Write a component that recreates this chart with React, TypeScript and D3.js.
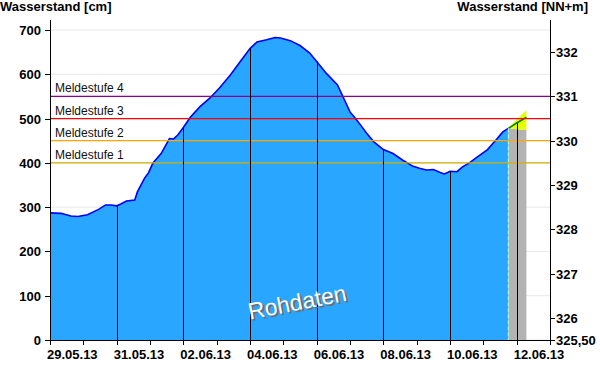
import React from "react";
import * as d3 from "d3";

// Observed water level (cm)
const obsTimes = [
  "2013-05-29 00:00", "2013-05-29 08:00", "2013-05-29 15:00", "2013-05-29 20:00",
  "2013-05-30 03:00", "2013-05-30 11:00", "2013-05-30 16:00", "2013-05-30 20:00",
  "2013-05-31 00:00", "2013-05-31 03:00", "2013-05-31 07:00", "2013-05-31 13:00",
  "2013-05-31 15:00", "2013-05-31 20:00", "2013-05-31 23:00", "2013-06-01 02:00",
  "2013-06-01 08:00", "2013-06-01 14:00", "2013-06-01 17:00", "2013-06-01 20:00",
  "2013-06-02 00:00", "2013-06-02 05:00", "2013-06-02 12:00", "2013-06-02 19:00",
  "2013-06-03 02:00", "2013-06-03 10:00", "2013-06-03 17:00", "2013-06-04 00:00",
  "2013-06-04 05:00", "2013-06-04 12:00", "2013-06-04 18:00", "2013-06-04 22:00",
  "2013-06-05 05:00", "2013-06-05 12:00", "2013-06-05 19:00", "2013-06-06 00:00",
  "2013-06-06 07:00", "2013-06-06 15:00", "2013-06-06 19:00", "2013-06-07 00:00",
  "2013-06-07 04:00", "2013-06-07 07:00", "2013-06-07 12:00", "2013-06-07 17:00",
  "2013-06-08 00:00", "2013-06-08 07:00", "2013-06-08 14:00", "2013-06-08 21:00",
  "2013-06-09 02:00", "2013-06-09 07:00", "2013-06-09 12:00", "2013-06-09 17:00",
  "2013-06-09 20:00", "2013-06-10 00:00", "2013-06-10 05:00", "2013-06-10 09:00",
  "2013-06-10 14:00", "2013-06-10 19:00", "2013-06-11 03:00", "2013-06-11 10:00",
  "2013-06-11 14:00", "2013-06-11 18:00",
];
const obsLevels = [
  287, 286, 280, 279,
  283, 295, 305, 305,
  303, 307, 314, 316,
  335, 365, 378, 399,
  421, 455, 454, 463,
  480, 503, 527, 546,
  569, 599, 629, 658,
  673, 678, 683, 682,
  676, 665, 648, 629,
  602, 576, 549, 515,
  500, 488, 467, 448,
  430, 421, 406, 393,
  388, 384, 385, 378,
  375, 381, 380, 391,
  400, 412, 430, 455,
  470, 478,
];

// Forecast
const fcTimes = ["2013-06-11 18:00", "2013-06-12 00:00", "2013-06-12 07:00"];
const fcMedian = [478, 490, 503];
const fcLower = [478, 476, 474];
const fcUpper = [478, 498, 519];

// Warning levels
const levelNames = ["Meldestufe 1", "Meldestufe 2", "Meldestufe 3", "Meldestufe 4"];
const levelValues = [400, 450, 500, 550];
const levelColors = ["#d4b000", "#ffa500", "#ff0000", "#8b008b"];

const leftTicks = [0, 100, 200, 300, 400, 500, 600, 700];
const rightTicks = [326, 327, 328, 329, 330, 331, 332];
const gaugeZero = 325.5;

const W = 600, H = 384;
const L = 50, R = 550, T = 20, B = 340;
const FONT = "'Liberation Sans', Arial, sans-serif";

export default function App() {
  const parse = d3.timeParse("%Y-%m-%d %H:%M");
  const obs = obsTimes.map((t, i) => ({ t: parse(t)!, v: obsLevels[i] }));
  const fc = fcTimes.map((t, i) => ({ t: parse(t)!, m: fcMedian[i], lo: fcLower[i], hi: fcUpper[i] }));

  const x = d3.scaleTime().domain([new Date(2013, 4, 29), new Date(2013, 5, 13)]).range([L, R]);
  const y = d3.scaleLinear().domain([0, 722.6]).range([B, T]);
  const yR = d3.scaleLinear().domain([gaugeZero, gaugeZero + 7.226]).range([B, T]);

  const area = d3.area<{ t: Date; v: number }>().x(d => x(d.t)).y0(B).y1(d => y(d.v));
  const line = d3.line<{ t: Date; v: number }>().x(d => x(d.t)).y(d => y(d.v));
  const grayArea = d3.area<any>().x(d => x(d.t)).y0(B).y1(d => y(d.lo));
  const band = d3.area<any>().x(d => x(d.t)).y0(d => y(d.lo)).y1(d => y(d.hi));
  const medLine = d3.line<any>().x(d => x(d.t)).y(d => y(d.m));

  const fcStart = fc[0].t;

  const combined = [...obs, ...fc.slice(1).map(d => ({ t: d.t, v: d.m }))];
  const valueAt = (t: Date) => {
    const i = d3.bisector((d: { t: Date }) => d.t).left(combined, t);
    if (i <= 0) return combined[0].v;
    if (i >= combined.length) return combined[combined.length - 1].v;
    const a = combined[i - 1], b = combined[i];
    const f = (+t - +a.t) / (+b.t - +a.t);
    return a.v + f * (b.v - a.v);
  };

  const dayTicks = d3.timeDay.range(new Date(2013, 4, 29), new Date(2013, 5, 13, 1));
  const majors = dayTicks.filter((_, i) => i % 2 === 0 && i < 15);
  const fmt = d3.timeFormat("%d.%m.%y");

  const cx = x(new Date(2013, 5, 5, 11)) as number;
  const cy = 310;

  return (
    <svg width={W} height={H} style={{ position: "absolute", left: 0, top: 0, background: "#fff" }} fontFamily={FONT}>
      <rect x={0} y={0} width={W} height={H} fill="#fff" />
      {/* grid */}
      {leftTicks.map(v => (
        <line key={"g" + v} x1={L} x2={R} y1={y(v)} y2={y(v)} stroke="#e8e8e8" strokeWidth={1} />
      ))}
      {/* observed area */}
      <path d={area(obs) || ""} fill="#29a6ff" />
      <path d={line(obs) || ""} fill="none" stroke="#0000ff" strokeWidth={1.6} />
      {/* forecast */}
      <path d={grayArea(fc) || ""} fill="#b3b3b3" />
      <path d={band(fc) || ""} fill="#e4ff00" />
      <path d={medLine(fc) || ""} fill="none" stroke="#008000" strokeWidth={1.5} />
      <line x1={x(fcStart)} x2={x(fcStart)} y1={y(fc[0].m)} y2={B} stroke="#b8ffd0" strokeWidth={1} strokeDasharray="4,2" />
      {/* warning levels */}
      {levelValues.map((v, i) => (
        <g key={"l" + v}>
          <line x1={L} x2={R} y1={y(v)} y2={y(v)} stroke={levelColors[i]} strokeWidth={1.2} />
          <text x={L + 5} y={y(v) - 4} fontSize={12} fill="#111">{levelNames[i]}</text>
        </g>
      ))}
      {/* vertical day markers */}
      {majors.slice(1).map(d => (
        <line key={"v" + +d} x1={Math.round(x(d)) + 0.5} x2={Math.round(x(d)) + 0.5} y1={y(valueAt(d))} y2={B} stroke="#000" strokeWidth={1} />
      ))}
      {/* watermark */}
      <g transform={`translate(${cx},${cy}) rotate(-11)`}>
        <text x={2} y={2} textAnchor="middle" fontSize={23} fill="#6e6e6e">Rohdaten</text>
        <text x={0} y={0} textAnchor="middle" fontSize={23} fill="#ffffff">Rohdaten</text>
      </g>
      {/* axes */}
      <line x1={L + 0.5} x2={L + 0.5} y1={T} y2={B} stroke="#000" />
      <line x1={R + 0.5} x2={R + 0.5} y1={T} y2={B} stroke="#000" />
      <line x1={L} x2={R} y1={B + 0.5} y2={B + 0.5} stroke="#000" />
      {leftTicks.map(v => (
        <g key={"lt" + v}>
          <line x1={L - 5} x2={L} y1={Math.round(y(v)) + 0.5} y2={Math.round(y(v)) + 0.5} stroke="#000" />
          <text x={L - 9} y={y(v) + 5} textAnchor="end" fontSize={13} fontWeight="bold" fill="#000">{v}</text>
        </g>
      ))}
      {rightTicks.map(v => (
        <g key={"rt" + v}>
          <line x1={R} x2={R + 5} y1={Math.round(yR(v)) + 0.5} y2={Math.round(yR(v)) + 0.5} stroke="#000" />
          <text x={R + 6} y={yR(v) + 5} fontSize={13} fontWeight="bold" fill="#000">{v}</text>
        </g>
      ))}
      <line x1={R} x2={R + 5} y1={B + 0.5} y2={B + 0.5} stroke="#000" />
      <text x={R + 6} y={B + 5} fontSize={13} fontWeight="bold" fill="#000">{d3.format(".2f")(gaugeZero).replace(".", ",")}</text>
      {dayTicks.map(d => (
        <line key={"xt" + +d} x1={Math.round(x(d)) + 0.5} x2={Math.round(x(d)) + 0.5} y1={B} y2={B + 5} stroke="#000" />
      ))}
      {majors.map(d => (
        <text key={"xl" + +d} x={x(d) - 3} y={B + 19} fontSize={13} fontWeight="bold" fill="#000">{fmt(d)}</text>
      ))}
      {/* titles */}
      <text x={0} y={11} fontSize={13} fontWeight="bold" fill="#000">Wasserstand [cm]</text>
      <text x={588} y={11} textAnchor="end" fontSize={13} fontWeight="bold" fill="#000">Wasserstand [NN+m]</text>
    </svg>
  );
}
